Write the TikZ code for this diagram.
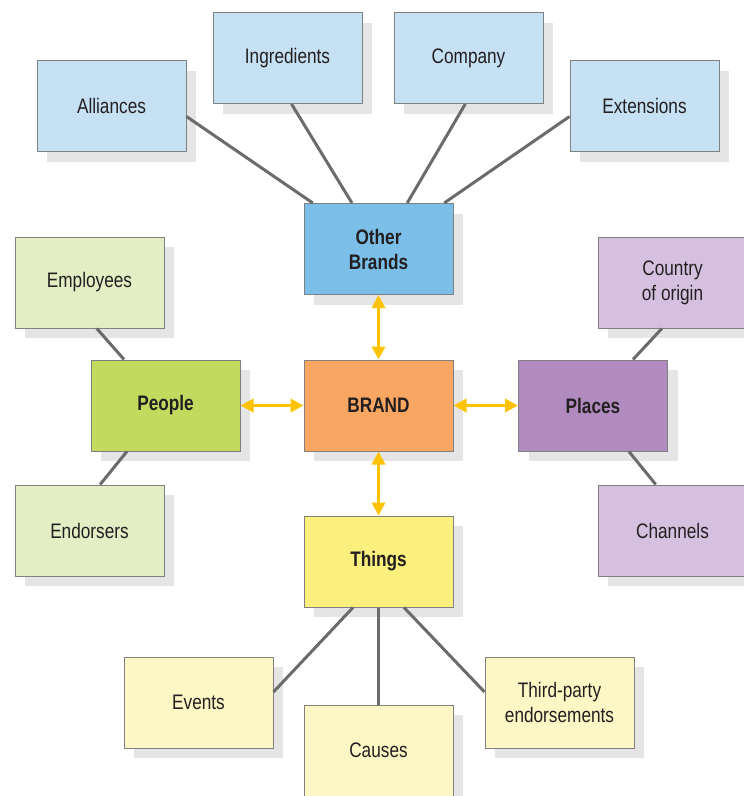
\documentclass[tikz,border=0pt]{standalone}
\usepackage{fontspec}
\setmainfont{Liberation Sans}[FakeStretch=0.82]
\usetikzlibrary{shadows}
\usetikzlibrary{arrows.meta}

\definecolor{lblue}{HTML}{C6E0F4}
\definecolor{dblue}{HTML}{7BBFE9}
\definecolor{orng}{HTML}{F8A662}
\definecolor{lgreen}{HTML}{E4EEC5}
\definecolor{dgreen}{HTML}{C2DB5F}
\definecolor{lpurp}{HTML}{D5C1DF}
\definecolor{dpurp}{HTML}{B18BBF}
\definecolor{lyell}{HTML}{FDF7C5}
\definecolor{dyell}{HTML}{FBF07D}
\definecolor{gold}{HTML}{FDC300}
\definecolor{linkgray}{HTML}{6B6B6B}
\definecolor{ink}{HTML}{231F20}

\begin{document}
\begin{tikzpicture}[
            x=1pt, y=-1pt,
            box/.style={draw=black!50, line width=1pt, minimum width=149pt,
              minimum height=91pt, inner sep=0pt, align=center, text=ink,
              font=\fontsize{21}{25}\selectfont,
              drop shadow={shadow xshift=10pt, shadow yshift=-10pt, fill=black!10, opacity=1}},
            hub/.style={box, font=\fontsize{21}{25}\selectfont\bfseries},
            link/.style={draw=linkgray, line width=3pt},
            twoway/.style={draw=gold, line width=3.5pt,
              {Triangle[width=13pt,length=13pt]}-{Triangle[width=13pt,length=13pt]}}
            ]
            \useasboundingbox (0,0) rectangle (744,796);
            % other brands
            \node[box, fill=lblue] (alli) at (111.5,106) {Alliances};
            \node[box, fill=lblue] (ingr) at (287.5,58) {Ingredients};
            \node[box, fill=lblue] (comp) at (468.5,58) {Company};
            \node[box, fill=lblue] (ext) at (644.5,106) {Extensions};
            \node[hub, fill=dblue] (other) at (378.5,249) {Other\\Brands};
            % people
            \node[box, fill=lgreen] (emp) at (89.5,282.5) {Employees};
            \node[hub, fill=dgreen] (people) at (165.5,405.5) {People};
            \node[box, fill=lgreen] (endo) at (89.5,530.5) {Endorsers};
            % centre
            \node[hub, fill=orng] (brand) at (378.5,405.5) {BRAND};
            % places
            \node[hub, fill=dpurp] (places) at (593,405.5) {Places};
            \node[box, fill=lpurp] (country) at (672.5,282.5) {Country\\of origin};
            \node[box, fill=lpurp] (chan) at (672.5,530.5) {Channels};
            % things
            \node[hub, fill=dyell] (things) at (378.5,561.5) {Things};
            \node[box, fill=lyell] (events) at (198.5,702.5) {Events};
            \node[box, fill=lyell] (causes) at (378.5,750.5) {Causes};
            \node[box, fill=lyell] (third) at (559.5,702.5) {Third-party\\endorsements};

            \draw[link] (alli.-8) -- (other.145);
            \draw[link] (ingr.-85) -- (other.120);
            \draw[link] (comp.-94) -- (other.58);
            \draw[link] (ext.188) -- (other.35);
            \draw[link] (emp.-81) -- (people.132);
            \draw[link] (people.230) -- (endo.77);
            \draw[link] (places.49) -- (country.-103);
            \draw[link] (places.-52) -- (chan.110);
            \draw[link] (things.241) -- (events.8);
            \draw[link] (things.south) -- (causes.north);
            \draw[link] (things.-61) -- (third.172);

            \draw[twoway] (other.south) -- (brand.north);
            \draw[twoway] (people.east) -- (brand.west);
            \draw[twoway] (brand.east) -- (places.west);
            \draw[twoway] (brand.south) -- (things.north);
        \end{tikzpicture}
\end{document}
